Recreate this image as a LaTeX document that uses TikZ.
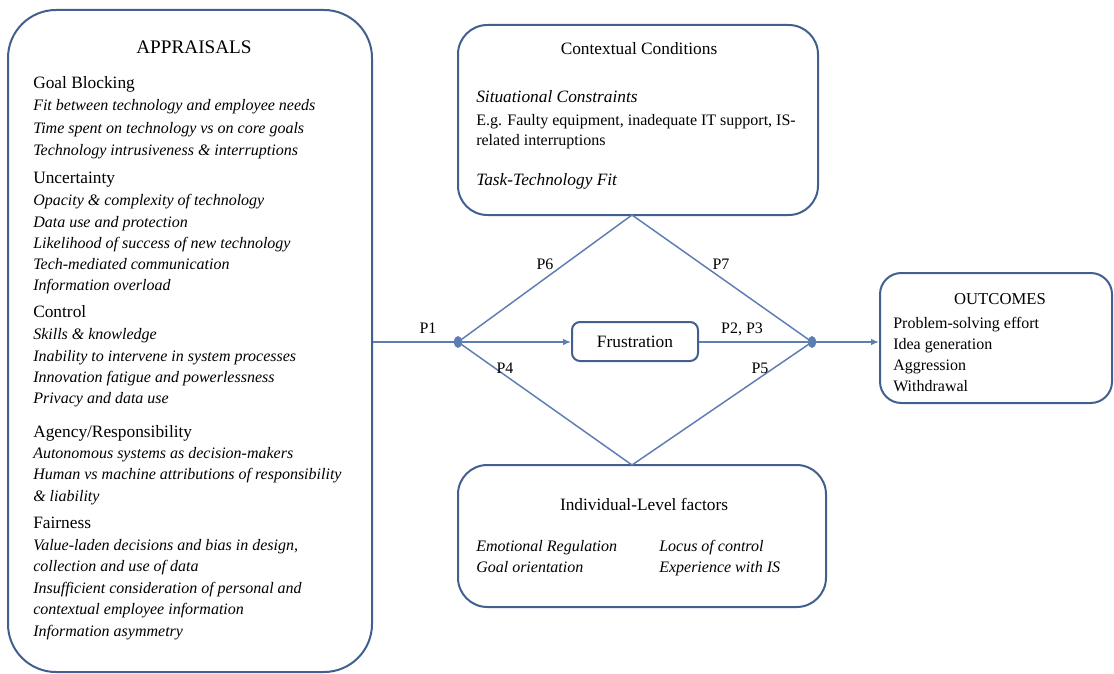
\documentclass[tikz,border=0pt]{standalone}
\usepackage{fontspec}
\setmainfont{Liberation Serif}
\usepackage{tikz}
\usetikzlibrary{positioning}
\usetikzlibrary{fit}
\usetikzlibrary{arrows.meta}
\definecolor{boxblue}{RGB}{66,96,142}
\definecolor{lineblue}{RGB}{92,126,178}

\begin{document}
\begin{tikzpicture}[x=0.75pt,y=0.75pt,yscale=-1,xscale=1,
  box/.style={draw=boxblue,line width=1.5pt,inner sep=0pt},
  lnk/.style={draw=lineblue,line width=1.1pt},
  tip/.style={-{Latex[length=6pt,width=5pt]}},
  txt/.style={anchor=base west,inner sep=0pt,font=\fontsize{12}{14}\selectfont},
  itm/.style={txt,font=\fontsize{12}{14}\selectfont\itshape},
  hd/.style={txt,font=\fontsize{13}{15}\selectfont},
  ttl/.style={anchor=base,inner sep=0pt,font=\fontsize{13}{15}\selectfont},
  plab/.style={anchor=base,inner sep=0pt,font=\fontsize{12}{14}\selectfont}]
\useasboundingbox (0,0) rectangle (1114,674);

%Boxes
\node[box,rounded corners=36pt,fit={(8,10) (372,672)}] (app) {};
\node[box,rounded corners=22pt,fit={(458,25) (818,215)}] (ctx) {};
\node[box,rounded corners=22pt,fit={(458,465) (826,607)}] (ind) {};
\node[box,rounded corners=6pt,fit={(572,322) (698,361)}] (fru) {};
\node[box,rounded corners=16pt,fit={(880,273) (1112,403)}] (out) {};

%Junctions
\coordinate (jl) at (458,342);
\coordinate (jr) at (812,342);
\coordinate (dtop) at (632,215);
\coordinate (dbot) at (632,465);

%Connectors
\draw[lnk] (app.east |- jl) -- (jl);
\draw[lnk,tip] (jl) -- (fru.west |- jl);
\draw[lnk] (fru.east |- jr) -- (jr);
\draw[lnk,tip] (jr) -- (out.west |- jr);
\draw[lnk] (dtop) -- (jl);
\draw[lnk] (dtop) -- (jr);
\draw[lnk] (dbot) -- (jl);
\draw[lnk] (dbot) -- (jr);
\fill[lineblue] (jl) ellipse (4 and 6);
\fill[lineblue] (jr) ellipse (4 and 6);

%Path labels
\node[plab] (p1) at (428,333) {P1};
\node[plab] (p6) at (545,269) {P6};
\node[plab] (p7) at (721,269) {P7};
\node[plab] (p4) at (505,373) {P4};
\node[plab] (p5) at (760,373) {P5};
\node[plab] (p23) at (742,333) {P2, P3};

% Text Node: appraisals
\node[ttl,font=\fontsize{14.4}{16}\selectfont] (appt) at (194,54) {APPRAISALS};
\node[hd] (gb) at (33,89) {Goal Blocking};
\node[itm] (gb1) at (33,111) {Fit between technology and employee needs};
\node[itm] (gb2) at (33,133) {Time spent on technology vs on core goals};
\node[itm] (gb3) at (33,155) {Technology intrusiveness \& interruptions};
\node[hd] (un) at (33,183) {Uncertainty};
\node[itm] (un1) at (33,205) {Opacity \& complexity of technology};
\node[itm] (un2) at (33,227) {Data use and protection};
\node[itm] (un3) at (33,248) {Likelihood of success of new technology};
\node[itm] (un4) at (33,269) {Tech-mediated communication};
\node[itm] (un5) at (33,290) {Information overload};
\node[hd] (co) at (33,317) {Control};
\node[itm] (co1) at (33,339) {Skills \& knowledge};
\node[itm] (co2) at (33,361) {Inability to intervene in system processes};
\node[itm] (co3) at (33,382) {Innovation fatigue and powerlessness};
\node[itm] (co4) at (33,403) {Privacy and data use};
\node[hd] (ag) at (33,437) {Agency/Responsibility};
\node[itm] (ag1) at (33,458) {Autonomous systems as decision-makers};
\node[itm] (ag2) at (33,479) {Human vs machine attributions of responsibility};
\node[itm] (ag3) at (33,501) {\& liability};
\node[hd] (fa) at (33,528) {Fairness};
\node[itm] (fa1) at (33,550) {Value-laden decisions and bias in design,};
\node[itm] (fa2) at (33,571) {collection and use of data};
\node[itm] (fa3) at (33,593) {Insufficient consideration of personal and};
\node[itm] (fa4) at (33,614) {contextual employee information};
\node[itm] (fa5) at (33,636) {Information asymmetry};

% Text Node: contextual conditions
\node[ttl] (ctxt) at (639,55) {Contextual Conditions};
\node[itm,font=\fontsize{13}{15}\selectfont\itshape] (sc) at (476,103) {Situational Constraints};
\node[txt] (sc1) at (476,125) {E.g. Faulty equipment, inadequate IT support, IS-};
\node[txt] (sc2) at (476,146) {related interruptions};
\node[itm,font=\fontsize{13}{15}\selectfont\itshape] (ttf) at (476,185) {Task-Technology Fit};

% Text Node: frustration
\node[ttl,anchor=center] (frut) at (fru.center) {Frustration};

% Text Node: individual-level factors
\node[ttl] (indt) at (644,510) {Individual-Level factors};
\node[itm] (er) at (476,551) {Emotional Regulation};
\node[itm] (go) at (476,572) {Goal orientation};
\node[itm] (lc) at (659,551) {Locus of control};
\node[itm] (ex) at (659,572) {Experience with IS};

% Text Node: outcomes
\node[ttl,font=\fontsize{12.5}{15}\selectfont] (outt) at (1000,304) {OUTCOMES};
\node[txt] (o1) at (893,328) {Problem-solving effort};
\node[txt] (o2) at (893,349) {Idea generation};
\node[txt] (o3) at (893,370) {Aggression};
\node[txt] (o4) at (893,391) {Withdrawal};

\end{tikzpicture}
\end{document}
